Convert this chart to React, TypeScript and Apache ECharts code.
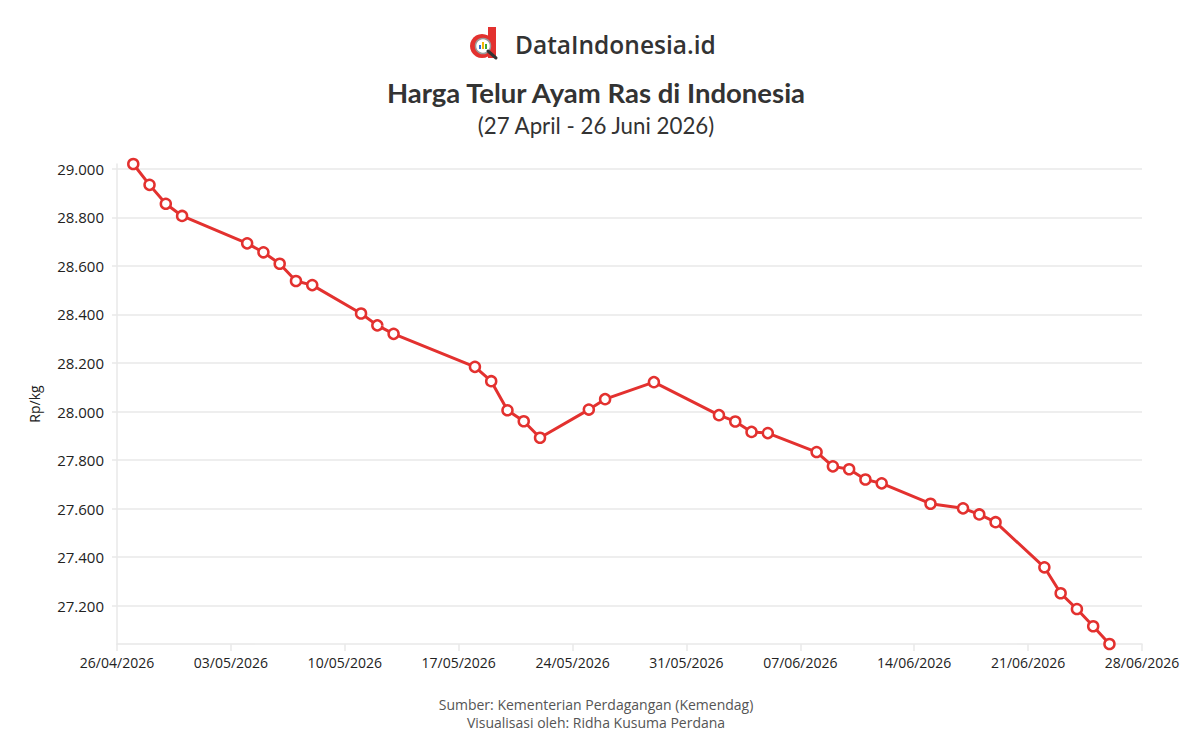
import React, { useEffect, useRef } from "react";
import * as echarts from "echarts";

const dates = [
  "2026-04-27", "2026-04-28", "2026-04-29", "2026-04-30",
  "2026-05-04", "2026-05-05", "2026-05-06", "2026-05-07", "2026-05-08",
  "2026-05-11", "2026-05-12", "2026-05-13",
  "2026-05-18", "2026-05-19", "2026-05-20", "2026-05-21", "2026-05-22",
  "2026-05-25", "2026-05-26", "2026-05-29",
  "2026-06-02", "2026-06-03", "2026-06-04", "2026-06-05",
  "2026-06-08", "2026-06-09", "2026-06-10", "2026-06-11", "2026-06-12",
  "2026-06-15", "2026-06-17", "2026-06-18", "2026-06-19",
  "2026-06-22", "2026-06-23", "2026-06-24", "2026-06-25", "2026-06-26",
];
const prices = [
  29020, 28934, 28856, 28806,
  28693, 28656, 28609, 28538, 28521,
  28404, 28355, 28320,
  28184, 28125, 28005, 27960, 27892,
  28008, 28051, 28121,
  27985, 27959, 27916, 27911,
  27833, 27774, 27762, 27720, 27704,
  27620, 27601, 27576, 27544,
  27358, 27251, 27186, 27115, 27042,
];
const axisStartDate = "2026-04-26";
const axisEndDate = "2026-06-28";
const tickStepDays = 7;

const titleText = "Harga Telur Ayam Ras di Indonesia";
const subtitleText = "(27 April - 26 Juni 2026)";
const brandText = "DataIndonesia.id";
const sourceLines = [
  "Sumber: Kementerian Perdagangan (Kemendag)",
  "Visualisasi oleh: Ridha Kusuma Perdana",
];
const yAxisName = "Rp/kg";

const DAY = 86400000;
const toUTC = (s: string) => {
  const [y, m, d] = s.split("-").map(Number);
  return Date.UTC(y, m - 1, d);
};
const base = toUTC(axisStartDate);
const dayIndex = (s: string) => Math.round((toUTC(s) - base) / DAY);
const pad = (n: number) => (n < 10 ? "0" + n : "" + n);
const fmtDay = (v: number) => {
  const d = new Date(base + Math.round(v) * DAY);
  return `${pad(d.getUTCDate())}/${pad(d.getUTCMonth() + 1)}/${d.getUTCFullYear()}`;
};
const fmtNum = (v: number) =>
  Math.round(v).toString().replace(/\B(?=(\d{3})+(?!\d))/g, ".");

const RED = "#e3312f";
const GRID = "#e8e8e8";
const FONT = "'Open Sans', 'Noto Sans', sans-serif";

export default function App() {
  const ref = useRef<HTMLDivElement>(null);
  useEffect(() => {
    if (!ref.current) return;
    const chart = echarts.init(ref.current, undefined, { renderer: "svg" });
    const seriesData = dates.map((d, i) => [dayIndex(d), prices[i]]);
    chart.setOption({
      animation: false,
      backgroundColor: "#ffffff",
      textStyle: { fontFamily: FONT },
      grid: { left: 117, right: 51, top: 164, bottom: 101, containLabel: false },
      xAxis: {
        type: "value",
        min: 0,
        max: dayIndex(axisEndDate),
        interval: tickStepDays,
        axisLine: { show: true, lineStyle: { color: GRID, width: 1.5 } },
        axisTick: { show: true, length: 7, lineStyle: { color: GRID, width: 1.5 } },
        splitLine: { show: false },
        axisLabel: {
          formatter: (v: number) => fmtDay(v),
          color: "#222",
          fontSize: 14,
          margin: 11,
          fontFamily: FONT,
        },
      },
      yAxis: {
        type: "value",
        min: "dataMin",
        max: "dataMax",
        splitNumber: 10,
        name: yAxisName,
        nameLocation: "middle",
        nameGap: 76,
        nameTextStyle: { color: "#222", fontSize: 14, fontFamily: FONT },
        axisLine: { show: true, lineStyle: { color: GRID, width: 1.5 } },
        axisTick: { show: true, length: 5, lineStyle: { color: GRID, width: 1.5 } },
        splitLine: { show: true, showMinLine: false, showMaxLine: false, lineStyle: { color: GRID, width: 1.5 } },
        axisLabel: {
          formatter: (v: number) => fmtNum(v),
          showMinLabel: false,
          showMaxLabel: false,
          color: "#222",
          fontSize: 15,
          margin: 13,
          fontFamily: FONT,
        },
      },
      series: [
        {
          type: "line",
          data: seriesData,
          clip: false,
          symbol: "circle",
          symbolSize: 10,
          showAllSymbol: true,
          lineStyle: { color: RED, width: 3 },
          itemStyle: { color: "#ffffff", borderColor: RED, borderWidth: 2.5 },
        },
      ],
      graphic: [
        { type: "circle", shape: { cx: 482, cy: 46, r: 12 }, style: { fill: RED } },
        { type: "rect", shape: { x: 488, y: 27, width: 8, height: 31 }, style: { fill: RED } },
        { type: "circle", shape: { cx: 483, cy: 46, r: 7.5 }, style: { fill: "#ffffff", stroke: "#9a9a9a", lineWidth: 1.5 } },
        { type: "rect", shape: { x: 479, y: 45, width: 2, height: 4 }, style: { fill: "#2d6fd6" } },
        { type: "rect", shape: { x: 482, y: 42, width: 2, height: 7 }, style: { fill: "#f2b705" } },
        { type: "rect", shape: { x: 485, y: 44, width: 2, height: 5 }, style: { fill: "#3aaa35" } },
        { type: "line", shape: { x1: 488, y1: 51, x2: 496, y2: 58 }, style: { stroke: "#333", lineWidth: 3, lineCap: "round" } },
        {
          type: "text",
          x: 515,
          y: 44,
          style: { text: brandText, fill: "#333", font: `600 24.5px ${FONT}`, textAlign: "left", textVerticalAlign: "middle" },
        },
        {
          type: "text",
          x: 596,
          y: 92,
          style: { text: titleText, fill: "#333", font: `bold 27.5px Lato, ${FONT}`, textAlign: "center", textVerticalAlign: "middle" },
        },
        {
          type: "text",
          x: 596,
          y: 125,
          style: { text: subtitleText, fill: "#333", font: `22.3px Lato, ${FONT}`, textAlign: "center", textVerticalAlign: "middle" },
        },
        {
          type: "text",
          x: 596,
          y: 704,
          style: { text: sourceLines[0], fill: "#555", font: `14px ${FONT}`, textAlign: "center", textVerticalAlign: "middle" },
        },
        {
          type: "text",
          x: 596,
          y: 722,
          style: { text: sourceLines[1], fill: "#555", font: `14px ${FONT}`, textAlign: "center", textVerticalAlign: "middle" },
        },
      ],
    });
    return () => chart.dispose();
  }, []);
  return (
    <div
      ref={ref}
      style={{ position: "fixed", left: 0, top: 0, width: 1193, height: 745, background: "#fff" }}
    />
  );
}
